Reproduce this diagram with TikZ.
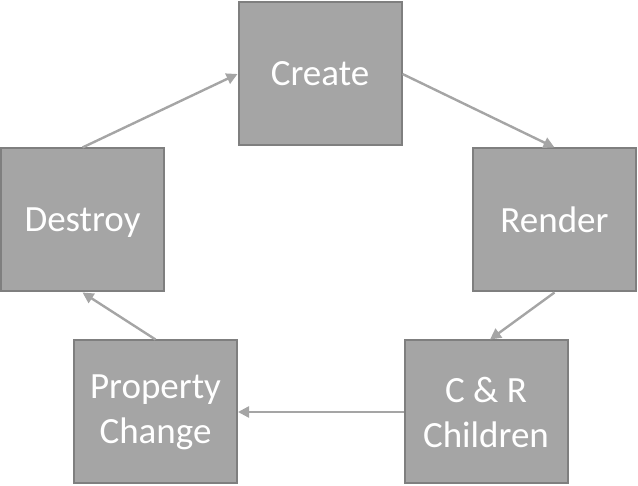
\documentclass[tikz,border=0pt]{standalone}
\usepackage{fontspec}
\setmainfont{Carlito}
\usetikzlibrary{arrows.meta}
\definecolor{boxfill}{HTML}{A5A5A5}
\definecolor{boxline}{HTML}{7F7F7F}
\definecolor{arrowc}{HTML}{A5A5A5}
\tikzset{
  stage/.style={draw=boxline, fill=boxfill, line width=2pt, minimum width=163pt, minimum height=143pt,
    inner sep=0pt, text=white, align=center, font=\fontsize{37}{45}\selectfont},
  flow/.style={draw=arrowc, line width=2.4pt, -{Triangle[length=11pt,width=11pt]}}
}
\begin{document}
\begin{tikzpicture}[x=1pt,y=-1pt]
\useasboundingbox (0,0) rectangle (638,486);
\node[stage] (create) at (320,74) {Create};
\node[stage] (render) at (554.5,220) {Render};
\node[stage, text depth=0pt] (destroy) at (82.5,220) {Destroy};
\node[stage] (prop) at (155.5,412) {Property\\Change};
\node[stage] (cr) at (486,412) {C \& R\\Children};
\draw[flow] (destroy.north) -- (create.west);
\draw[flow] (create.east) -- (render.north);
\draw[flow] (render.south) -- ([xshift=4pt]cr.north);
\draw[flow] (cr.west) -- (prop.east);
\draw[flow] (prop.north) -- (destroy.south);
\end{tikzpicture}
\end{document}
